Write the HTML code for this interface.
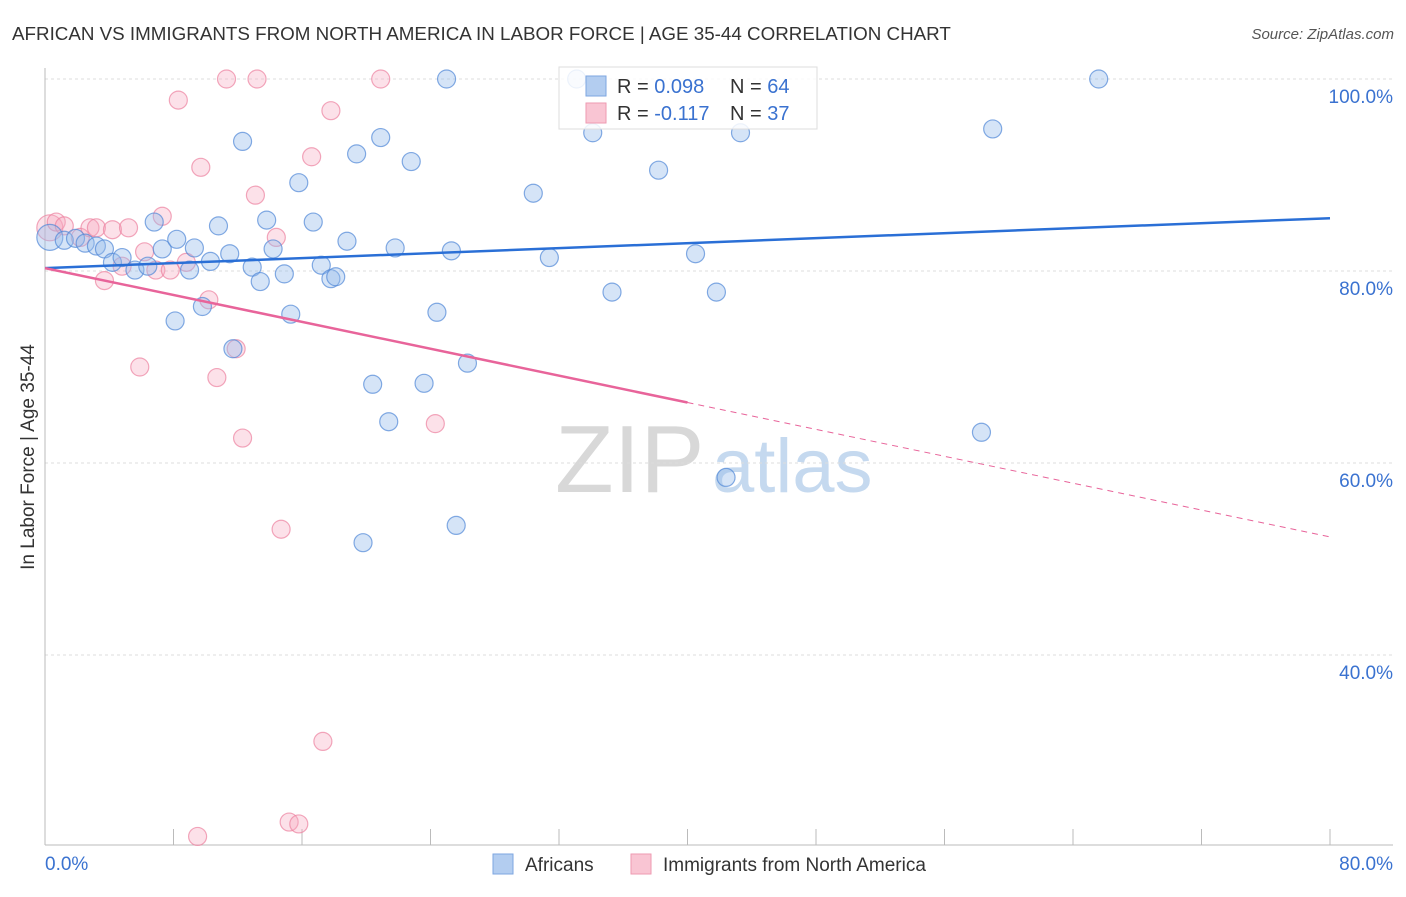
<!DOCTYPE html>
<html><head><meta charset="utf-8"><style>
body{margin:0;background:#fff;font-family:"Liberation Sans",sans-serif}
svg text{font-family:"Liberation Sans",sans-serif}
</style></head><body>
<svg width="1406" height="892" xmlns="http://www.w3.org/2000/svg">
<text x="12" y="40" font-size="18.8" fill="#333">AFRICAN VS IMMIGRANTS FROM NORTH AMERICA IN LABOR FORCE | AGE 35-44 CORRELATION CHART</text>
<text x="1394" y="39" font-size="15" fill="#555" font-style="italic" text-anchor="end">Source: ZipAtlas.com</text>
<g>
<text x="555" y="492" font-size="96" fill="#d8d8d8" font-family="Liberation Serif,serif">ZIP</text>
<text x="712" y="492" font-size="76" fill="#c5d9ef">atlas</text>
</g>
<g id="grid"></g>
<g id="axes"></g>
<g id="pts"></g>
<g id="trends"></g>
<text transform="translate(34,457) rotate(-90)" font-size="19" fill="#333" text-anchor="middle">In Labor Force | Age 35-44</text>
<g>
<rect x="559" y="67" width="258" height="62" fill="#fff" fill-opacity="0.85" stroke="#ddd"/>
<rect x="586" y="76" width="20" height="20" fill="#b3cdf0" stroke="#7ea6e0"/>
<rect x="586" y="103" width="20" height="20" fill="#f9c5d3" stroke="#ee9ab2"/>
<text x="617" y="93" font-size="20" fill="#333">R = <tspan fill="#3a72d0">0.098</tspan></text>
<text x="730" y="93" font-size="20" fill="#333">N = <tspan fill="#3a72d0">64</tspan></text>
<text x="617" y="120" font-size="20" fill="#333">R = <tspan fill="#3a72d0">-0.117</tspan></text>
<text x="730" y="120" font-size="20" fill="#333">N = <tspan fill="#3a72d0">37</tspan></text>
</g>
<g>
<rect x="493" y="854" width="20" height="20" fill="#b3cdf0" stroke="#7ea6e0"/>
<text x="525" y="871" font-size="19" fill="#333">Africans</text>
<rect x="631" y="854" width="20" height="20" fill="#f9c5d3" stroke="#ee9ab2"/>
<text x="663" y="871" font-size="19" fill="#333">Immigrants from North America</text>
</g>
</svg>
<script>
const yTicks=[40,60,80,100];
const yTickLabels=["40.0%","60.0%","80.0%","100.0%"];
const xTicks=[0,8,16,24,32,40,48,56,64,72,80];
const blueX=[0.3,1.2,1.9,2.5,3.2,3.7,4.2,4.8,5.6,6.4,6.8,7.3,8.1,8.2,9.0,9.3,9.8,10.3,10.8,11.5,11.7,12.3,12.9,13.4,13.8,14.2,14.9,15.3,15.8,16.7,17.2,17.8,18.1,18.8,19.4,19.8,20.4,20.9,21.4,21.8,22.8,23.6,24.4,25.0,25.3,25.6,26.3,30.4,31.4,33.1,34.1,35.3,38.2,40.5,41.8,42.4,43.3,58.3,59.0,65.6];
const blueY=[83.5,83.2,83.4,82.9,82.6,82.3,80.9,81.4,80.1,80.5,85.1,82.3,74.8,83.3,80.1,82.4,76.3,81.0,84.7,81.8,71.9,93.5,80.4,78.9,85.3,82.3,79.7,75.5,89.2,85.1,80.6,79.2,79.4,83.1,92.2,51.7,68.2,93.9,64.3,82.4,91.4,68.3,75.7,100,82.1,53.5,70.4,88.1,81.4,100,94.4,77.8,90.5,81.8,77.8,58.5,94.4,63.2,94.8,100];
const pinkX=[0.3,0.7,1.2,2.2,2.8,3.2,4.2,3.7,4.8,5.2,5.9,6.2,6.9,7.3,7.8,8.3,8.8,9.5,9.7,10.2,10.7,11.3,11.9,12.3,13.1,13.2,14.4,14.7,15.2,15.8,16.6,17.3,17.8,20.9,24.3];
const pinkY=[84.5,85.1,84.7,83.5,84.5,84.5,84.3,79.0,80.5,84.5,70.0,82.0,80.1,85.7,80.1,97.8,80.9,21.1,90.8,77.0,68.9,100,71.9,62.6,87.9,100,83.5,53.1,22.6,22.4,91.9,31.0,96.7,100,64.1];
const blueTrend=[80.3,85.5];
const pinkTrend=[80.3,52.3];
const pinkSolidEnd=40;
const NS="http://www.w3.org/2000/svg";
const X=v=>45+v*1285/80, Y=v=>79+(100-v)*9.6;
function mk(t,a,p){const e=document.createElementNS(NS,t);for(const k in a)e.setAttribute(k,a[k]);p.appendChild(e);return e;}
const grid=document.getElementById('grid'),axes=document.getElementById('axes'),pts=document.getElementById('pts'),tr=document.getElementById('trends');
mk('line',{x1:45,x2:1393,y1:Y(100),y2:Y(100),stroke:'#ddd','stroke-dasharray':'3,3'},grid);
yTicks.forEach((t,i)=>{
 const l=mk('line',{x1:45,x2:1393,y1:Y(t),y2:Y(t),stroke:'#ddd','stroke-dasharray':'3,3'},grid);
 
 
 const tx=mk('text',{x:1393,y:Y(t)+24,'font-size':19,fill:'#3a72d0','text-anchor':'end'},axes);
 tx.textContent=yTickLabels[i];
 
 
});
mk('line',{x1:45,x2:45,y1:68,y2:845,stroke:'#bbb'},axes);
mk('line',{x1:45,x2:1393,y1:845,y2:845,stroke:'#bbb'},axes);
xTicks.forEach(t=>{const l=mk('line',{x1:X(t),x2:X(t),y1:829,y2:845,stroke:'#bbb'},axes);
 
 });
const xl0=mk('text',{x:45,y:870,'font-size':19,fill:'#3a72d0'},axes);xl0.textContent='0.0%';


const xl1=mk('text',{x:1393,y:870,'font-size':19,fill:'#3a72d0','text-anchor':'end'},axes);xl1.textContent='80.0%';


pinkX.forEach((x,i)=>{const c=mk('circle',{cx:X(x),cy:Y(pinkY[i]),r:i==0?13:9,fill:'rgba(246,170,192,0.35)',stroke:'rgba(236,130,160,0.7)','stroke-width':1.2},pts);
 
 });
blueX.forEach((x,i)=>{const c=mk('circle',{cx:X(x),cy:Y(blueY[i]),r:i==0?13:9,fill:'rgba(150,188,235,0.4)',stroke:'rgba(80,135,215,0.7)','stroke-width':1.2},pts);
 
 });
const bl=mk('line',{x1:X(0),y1:Y(blueTrend[0]),x2:X(80),y2:Y(blueTrend[1]),stroke:'#2a6fd6','stroke-width':2.5},tr);


const pm=pinkTrend[0]+(pinkTrend[1]-pinkTrend[0])*pinkSolidEnd/80;
const pl=mk('line',{x1:X(0),y1:Y(pinkTrend[0]),x2:X(pinkSolidEnd),y2:Y(pm),stroke:'#e8649a','stroke-width':2.5},tr);


const pd=mk('line',{x1:X(pinkSolidEnd),y1:Y(pm),x2:X(80),y2:Y(pinkTrend[1]),stroke:'#e8649a','stroke-width':1,'stroke-dasharray':'6,5'},tr);


</script>
</body></html>
